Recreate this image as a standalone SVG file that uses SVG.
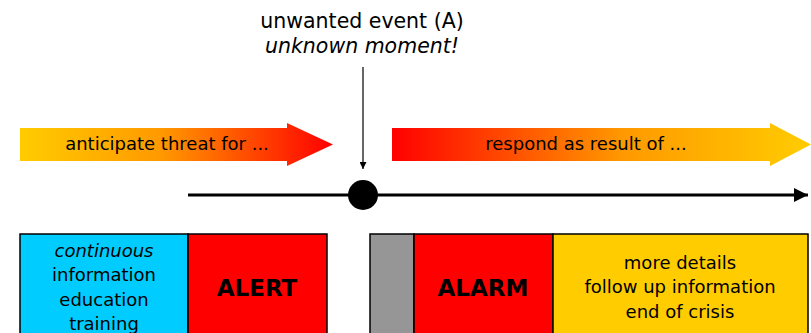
<svg xmlns="http://www.w3.org/2000/svg" width="811" height="333" viewBox="0 0 811 333">
<defs>
<linearGradient id="gL" x1="0" y1="0" x2="1" y2="0"><stop offset="0" stop-color="#FFCC00"/><stop offset="0.45" stop-color="#FF9900"/><stop offset="1" stop-color="#FF0000"/></linearGradient>
<linearGradient id="gR" x1="0" y1="0" x2="1" y2="0"><stop offset="0" stop-color="#FF0000"/><stop offset="0.55" stop-color="#FF9900"/><stop offset="1" stop-color="#FFCC00"/></linearGradient>
<marker id="ah" viewBox="0 0 10 10" refX="10" refY="5" markerWidth="8" markerHeight="7" markerUnits="userSpaceOnUse" orient="auto"><path d="M0,0 L10,5 L0,10 Z" fill="#000"/></marker>
<marker id="ahBig" viewBox="0 0 10 10" refX="10" refY="5" markerWidth="15" markerHeight="14" markerUnits="userSpaceOnUse" orient="auto"><path d="M0,0 L10,5 L0,10 Z" fill="#000"/></marker>
</defs>
<style>
text{font-family:"DejaVu Sans","Liberation Sans",sans-serif;fill:#000;text-anchor:middle}
.t{font-size:18px}
.h{font-size:20.5px}
.b{font-size:23px;font-weight:bold}
.box{stroke:#000;stroke-width:1.5}
</style>
<g id="event">
<text class="h" x="362" y="28">unwanted event (A)</text>
<text class="h" x="362" y="53" font-style="italic">unknown moment!</text>
</g>
<g id="anticipate">
<path d="M20,128 H287 V123 L333,144.5 L287,166 V161 H20 Z" fill="url(#gL)"/>
<text class="t" x="167" y="150">anticipate threat for ...</text>
</g>
<g id="respond">
<path d="M392,128 H770 V123 L811,144.5 L770,166 V161 H392 Z" fill="url(#gR)"/>
<text class="t" x="586" y="150">respond as result of ...</text>
</g>
<g id="connectors">
<line x1="363" y1="67" x2="363" y2="169" stroke="#000" stroke-width="1.2" marker-end="url(#ah)"/>
<line x1="188" y1="195" x2="808" y2="195" stroke="#000" stroke-width="3" marker-end="url(#ahBig)"/>
</g>
<g id="moment"><circle cx="363" cy="195" r="15" fill="#000"/></g>
<g id="continuous">
<rect class="box" x="20" y="234" width="168" height="110" fill="#00CCFF"/>
<text class="t" x="104" y="257" font-style="italic">continuous</text>
<text class="t" x="104" y="281">information</text>
<text class="t" x="104" y="306">education</text>
<text class="t" x="104" y="330">training</text>
</g>
<g id="alert">
<rect class="box" x="188" y="234" width="139" height="110" fill="#FF0000"/>
<text class="b" x="257" y="296">ALERT</text>
</g>
<g id="gray">
<rect class="box" x="370" y="234" width="44" height="110" fill="#969696"/>
</g>
<g id="alarm">
<rect class="box" x="414" y="234" width="139" height="110" fill="#FF0000"/>
<text class="b" x="483" y="296">ALARM</text>
</g>
<g id="followup">
<rect class="box" x="553" y="234" width="255" height="110" fill="#FFCC00"/>
<text class="t" x="680" y="269">more details</text>
<text class="t" x="680" y="293">follow up information</text>
<text class="t" x="680" y="318">end of crisis</text>
</g>
</svg>
